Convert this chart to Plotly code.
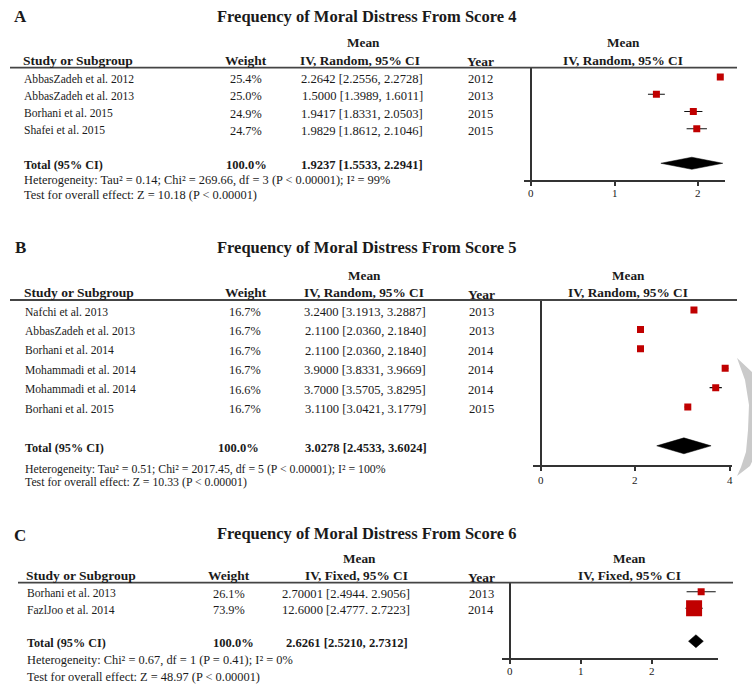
import plotly.graph_objects as go

W, H = 752, 685

# ---------------- data ----------------
# Panel A
a_title = "Frequency of Moral Distress From Score 4"
a_method = "IV, Random, 95% CI"
a_studies = ["AbbasZadeh et al. 2012", "AbbasZadeh et al. 2013", "Borhani et al. 2015", "Shafei et al. 2015"]
a_weights = ["25.4%", "25.0%", "24.9%", "24.7%"]
a_mean = [2.2642, 1.5000, 1.9417, 1.9829]
a_lo = [2.2556, 1.3989, 1.8331, 1.8612]
a_hi = [2.2728, 1.6011, 2.0503, 2.1046]
a_ci_labels = ["2.2642 [2.2556, 2.2728]", "1.5000 [1.3989, 1.6011]",
               "1.9417 [1.8331, 2.0503]", "1.9829 [1.8612, 2.1046]"]
a_years = ["2012", "2013", "2015", "2015"]
a_total = [1.9237, 1.5533, 2.2941]
a_total_label = "1.9237 [1.5533, 2.2941]"
a_het = "Heterogeneity: Tau² = 0.14; Chi² = 269.66, df = 3 (P < 0.00001); I² = 99%"
a_test = "Test for overall effect: Z = 10.18 (P < 0.00001)"
a_ticks = [0, 1, 2]

# Panel B
b_title = "Frequency of Moral Distress From Score 5"
b_method = "IV, Random, 95% CI"
b_studies = ["Nafchi et al. 2013", "AbbasZadeh et al. 2013", "Borhani et al. 2014",
             "Mohammadi et al. 2014", "Mohammadi et al. 2014", "Borhani et al. 2015"]
b_weights = ["16.7%", "16.7%", "16.7%", "16.7%", "16.6%", "16.7%"]
b_mean = [3.2400, 2.1100, 2.1100, 3.9000, 3.7000, 3.1100]
b_lo = [3.1913, 2.0360, 2.0360, 3.8331, 3.5705, 3.0421]
b_hi = [3.2887, 2.1840, 2.1840, 3.9669, 3.8295, 3.1779]
b_ci_labels = ["3.2400 [3.1913, 3.2887]", "2.1100 [2.0360, 2.1840]", "2.1100 [2.0360, 2.1840]",
               "3.9000 [3.8331, 3.9669]", "3.7000 [3.5705, 3.8295]", "3.1100 [3.0421, 3.1779]"]
b_years = ["2013", "2013", "2014", "2014", "2014", "2015"]
b_total = [3.0278, 2.4533, 3.6024]
b_total_label = "3.0278 [2.4533, 3.6024]"
b_het = "Heterogeneity: Tau² = 0.51; Chi² = 2017.45, df = 5 (P < 0.00001); I² = 100%"
b_test = "Test for overall effect: Z = 10.33 (P < 0.00001)"
b_ticks = [0, 2, 4]

# Panel C
c_title = "Frequency of Moral Distress From Score 6"
c_method = "IV, Fixed, 95% CI"
c_studies = ["Borhani et al. 2013", "FazlJoo et al. 2014"]
c_weights = ["26.1%", "73.9%"]
c_mean = [2.7000, 2.6000]
c_lo = [2.4944, 2.4777]
c_hi = [2.9056, 2.7223]
c_ci_labels = ["2.70001 [2.4944. 2.9056]", "12.6000 [2.4777. 2.7223]"]
c_years = ["2013", "2014"]
c_total = [2.6261, 2.5210, 2.7312]
c_total_label = "2.6261 [2.5210, 2.7312]"
c_het = "Heterogeneity: Chi² = 0.67, df = 1 (P = 0.41); I² = 0%"
c_test = "Test for overall effect: Z = 48.97 (P < 0.00001)"
c_ticks = [0, 1, 2]

panels = [
    dict(letter="A", title=a_title, method=a_method, studies=a_studies, weights=a_weights,
         mean=a_mean, lo=a_lo, hi=a_hi, ci=a_ci_labels, years=a_years, total=a_total,
         total_label=a_total_label, het=a_het, test=a_test, ticks=a_ticks),
    dict(letter="B", title=b_title, method=b_method, studies=b_studies, weights=b_weights,
         mean=b_mean, lo=b_lo, hi=b_hi, ci=b_ci_labels, years=b_years, total=b_total,
         total_label=b_total_label, het=b_het, test=b_test, ticks=b_ticks),
    dict(letter="C", title=c_title, method=c_method, studies=c_studies, weights=c_weights,
         mean=c_mean, lo=c_lo, hi=c_hi, ci=c_ci_labels, years=c_years, total=c_total,
         total_label=c_total_label, het=c_het, test=c_test, ticks=c_ticks),
]

# ---------------- layout / style (pixel geometry) ----------------
styles = [
    dict(letter_y=16, title_y=17, mean_y=43, hdr_y=60, year_y=62, line_y=67.7, line_x=(10, 737),
         name_x=22, weight_x=246, ci_x=362, year_x=480, tw_x=246, tci_x=362, rmean_x=623,
         plot_x=(524, 725), zero_px=531, unit_px=83.6, plot_y=(67.7, 180), top=-0.54, bottom=5.97,
         total_pos=5, dia_h=0.35, msize=[7, 7, 7, 7], het_y=180, test_y=195, het_size=12.4,
         wh_x=246, mh_x=363, ivh_x=360, tick_y=193),
    dict(letter_y=247, title_y=247, mean_y=275, hdr_y=292, year_y=294, line_y=300, line_x=(10, 737),
         name_x=23, weight_x=245, ci_x=365, year_x=481, tw_x=238, tci_x=366, rmean_x=628,
         plot_x=(533, 731.7), zero_px=540.7, unit_px=47.3, plot_y=(300, 465), top=-0.52, bottom=7.99,
         total_pos=7, dia_h=0.41, msize=[7, 7, 7, 7, 7, 7], het_y=469, test_y=482, het_size=11.8,
         wh_x=246, mh_x=364, ivh_x=364, tick_y=480),
    dict(letter_y=535, title_y=533, mean_y=558, hdr_y=575, year_y=577, line_y=582.7, line_x=(18, 733),
         name_x=25, weight_x=229, ci_x=346, year_x=481, tw_x=233, tci_x=347, rmean_x=629,
         plot_x=(502, 718), zero_px=510, unit_px=70.8, plot_y=(583, 657.7), top=-0.53, bottom=4.0,
         total_pos=3, dia_h=0.39, msize=[7, 16], het_y=660, test_y=676.5, het_size=12.4,
         wh_x=229, mh_x=359, ivh_x=356, tick_y=670.5),
]

FONT = "Liberation Serif"
TXT = "#1a1a1a"
AX = "#333333"
RED = "#c00000"


def px(xp):
    return xp / W


def py(yp):
    return 1 - yp / H


fig = go.Figure()
annotations = []
shapes = []
layout_axes = {}


def ann(x, y, text, size, bold=False, xanchor="center", yref="paper", yshift=0, xref="paper"):
    annotations.append(dict(
        x=x, y=y, xref=xref, yref=yref, text=("<b>%s</b>" % text) if bold else text,
        showarrow=False, xanchor=xanchor, yanchor="middle", yshift=yshift,
        font=dict(family=FONT, size=size, color=TXT)))


for i, (p, s) in enumerate(zip(panels, styles)):
    k = i + 1
    xname = "x" if k == 1 else "x%d" % k
    yname = "y" if k == 1 else "y%d" % k
    rows = list(range(len(p["studies"])))
    tp = s["total_pos"]

    # headers / titles
    ann(px(20), py(s["letter_y"]), p["letter"], 17, bold=True)
    ann(px(366), py(s["title_y"]), p["title"], 16.5, bold=True)
    ann(px(s["mh_x"]), py(s["mean_y"]), "Mean", 13.3, bold=True)
    ann(px(s["ivh_x"]), py(s["hdr_y"]), p["method"], 13.3, bold=True)
    ann(px(s["name_x"] - 1), py(s["hdr_y"]), "Study or Subgroup", 13.5, bold=True, xanchor="left")
    ann(px(s["wh_x"]), py(s["hdr_y"]), "Weight", 13.5, bold=True)
    ann(px(s["year_x"]), py(s["year_y"]), "Year", 13.5, bold=True)
    ann(px(s["rmean_x"]), py(s["mean_y"]), "Mean", 13.3, bold=True)
    ann(px(s["rmean_x"]), py(s["hdr_y"]), p["method"], 13.3, bold=True)

    shapes.append(dict(type="line", xref="paper", yref="paper",
                       x0=px(s["line_x"][0]), x1=px(s["line_x"][1]),
                       y0=py(s["line_y"]), y1=py(s["line_y"]),
                       line=dict(color="#444444", width=1.8)))

    # study rows
    for r, name, w, ci, yr in zip(rows, p["studies"], p["weights"], p["ci"], p["years"]):
        ann(px(s["name_x"]), r, name, 11.6, xanchor="left", yref=yname, yshift=-2)
        ann(px(s["weight_x"]), r, w, 12.3, yref=yname, yshift=-2)
        ann(px(s["ci_x"]), r, ci, 12.6, yref=yname, yshift=-2)
        ann(px(s["year_x"]), r, yr, 12.6, yref=yname, yshift=-2)

    # total row
    ann(px(s["name_x"]), tp, "Total (95% CI)", 12.2, bold=True, xanchor="left", yref=yname, yshift=-2)
    ann(px(s["tw_x"]), tp, "100.0%", 12.5, bold=True, yref=yname, yshift=-2)
    ann(px(s["tci_x"]), tp, p["total_label"], 12.6, bold=True, yref=yname, yshift=-2)
    ann(px(s["name_x"]), py(s["het_y"]), p["het"], s["het_size"], xanchor="left")
    ann(px(s["name_x"]), py(s["test_y"]), p["test"], s["het_size"], xanchor="left")

    # tick labels (placed at the axis tick values)
    for t in p["ticks"]:
        ann(t, py(s["tick_y"]), str(t), 11, xref=xname)

    # study estimates
    fig.add_trace(go.Scatter(
        x=p["mean"], y=rows, mode="markers", xaxis=xname, yaxis=yname,
        marker=dict(symbol="square", size=s["msize"], color=RED, opacity=1, line=dict(width=0)),
        error_x=dict(type="data", symmetric=False,
                     array=[h - m for h, m in zip(p["hi"], p["mean"])],
                     arrayminus=[m - l for m, l in zip(p["mean"], p["lo"])],
                     color="#111111", thickness=1.1, width=0),
        showlegend=False, hoverinfo="skip"))

    # pooled diamond
    est, lo, hi = p["total"]
    dh = s["dia_h"]
    fig.add_trace(go.Scatter(
        x=[lo, est, hi, est, lo], y=[tp, tp - dh, tp, tp + dh, tp],
        mode="lines", fill="toself", fillcolor="black", line=dict(color="black", width=0.5),
        xaxis=xname, yaxis=yname, showlegend=False, hoverinfo="skip"))

    x0 = (s["plot_x"][0] - s["zero_px"]) / s["unit_px"]
    x1 = (s["plot_x"][1] - s["zero_px"]) / s["unit_px"]
    xdom = [px(s["plot_x"][0]), px(s["plot_x"][1])]
    ydom = [py(s["plot_y"][1]), py(s["plot_y"][0])]
    layout_axes["xaxis" if k == 1 else "xaxis%d" % k] = dict(
        domain=xdom, range=[x0, x1], anchor=yname, showgrid=False,
        showline=True, linecolor=AX, linewidth=1.6,
        zeroline=True, zerolinecolor=AX, zerolinewidth=1.6,
        ticks="outside", ticklen=4, tickwidth=1.6, tickcolor=AX,
        tickvals=p["ticks"], showticklabels=False, fixedrange=True)
    layout_axes["xaxis%d" % (k + 3)] = dict(
        domain=xdom, range=[x0, x1], anchor=yname, overlaying=xname, showgrid=False,
        showline=False, zeroline=False, ticks="inside", ticklen=4, tickwidth=1.6,
        tickcolor=AX, tickvals=p["ticks"], showticklabels=False, fixedrange=True)
    layout_axes["yaxis" if k == 1 else "yaxis%d" % k] = dict(
        domain=ydom, range=[s["bottom"], s["top"]], anchor=xname, showgrid=False,
        showline=False, zeroline=False, showticklabels=False, ticks="", fixedrange=True)

# faint grey watermark crescent at right edge of panel B
pts = [(737, 358), (745, 380), (749, 405), (748, 430), (746, 452), (741, 467), (737, 476),
       (750, 466), (760, 445), (762, 420), (760, 395), (752, 372)]
path = "M " + " L ".join("%.4f,%.4f" % (px(a), py(b)) for a, b in pts) + " Z"
shapes.append(dict(type="path", xref="paper", yref="paper", path=path,
                   fillcolor="#cacaca", line=dict(width=0), layer="below"))

fig.update_layout(
    width=W, height=H, margin=dict(l=0, r=0, t=0, b=0),
    paper_bgcolor="white", plot_bgcolor="rgba(0,0,0,0)",
    annotations=annotations, shapes=shapes, showlegend=False,
    **layout_axes)

fig.write_html("out.html", config={"displayModeBar": False},
               post_script="document.body.style.margin='0';document.body.style.overflow='hidden';")
